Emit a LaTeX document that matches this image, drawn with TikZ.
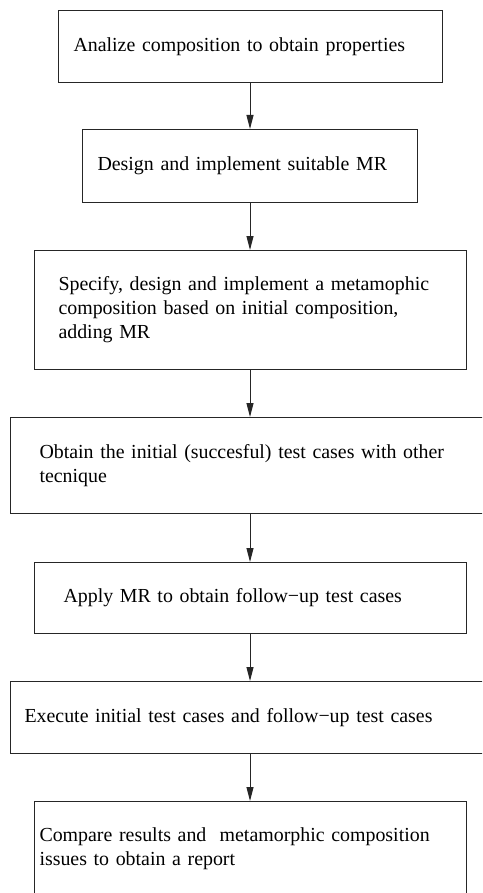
\documentclass[tikz,border=0pt]{standalone}
\usepackage{fontspec}
\setmainfont{Liberation Serif}
\usetikzlibrary{arrows.meta}
\tikzset{
  stepbox/.style={draw=black!85, line width=1pt, anchor=north west, align=left,
    inner ysep=0pt, font=\fontsize{19.9}{24}\selectfont},
  arr/.style={draw=black!85, line width=1pt, -{Triangle[length=14pt,width=7pt]}}
}
\begin{document}
\begin{tikzpicture}[x=1pt,y=-1pt]
\useasboundingbox (0,0) rectangle (482,893);
\clip (0,0) rectangle (482,893);
\fill[white] (0,0) rectangle (482,893);
\node[stepbox, minimum width=384pt, minimum height=72pt, inner xsep=15pt, text width=354pt] (b1) at (58,10)
  {Analize composition to obtain properties};
\node[stepbox, minimum width=335pt, minimum height=73pt, inner xsep=15pt, text width=305pt] (b2) at (82,129)
  {Design and implement suitable MR};
\node[stepbox, minimum width=432pt, minimum height=119pt, inner xsep=24pt, text width=384pt] (b3) at (34,250)
  {Specify, design and implement a metamophic\\composition based on initial composition,\\adding MR};
\node[stepbox, minimum width=500pt, minimum height=96pt, inner xsep=29pt, text width=442pt] (b4) at (10,417)
  {Obtain the initial (succesful) test cases with other\\tecnique};
\node[stepbox, minimum width=432pt, minimum height=71pt, inner xsep=29pt, text width=374pt] (b5) at (34,562)
  {Apply MR to obtain follow−up test cases};
\node[stepbox, minimum width=500pt, minimum height=72pt, inner xsep=14pt, text width=472pt] (b6) at (10,681)
  {Execute initial test cases and follow−up test cases};
\node[stepbox, minimum width=432pt, minimum height=95pt, inner xsep=5pt, text width=422pt] (b7) at (34,801)
  {Compare results and~ metamorphic composition\\issues to obtain a report};
\coordinate (ax) at (250,0);
\draw[arr] (b1.south -| ax) -- (b2.north -| ax);
\draw[arr] (b2.south -| ax) -- (b3.north -| ax);
\draw[arr] (b3.south -| ax) -- (b4.north -| ax);
\draw[arr] (b4.south -| ax) -- (b5.north -| ax);
\draw[arr] (b5.south -| ax) -- (b6.north -| ax);
\draw[arr] (b6.south -| ax) -- (b7.north -| ax);
\end{tikzpicture}
\end{document}
